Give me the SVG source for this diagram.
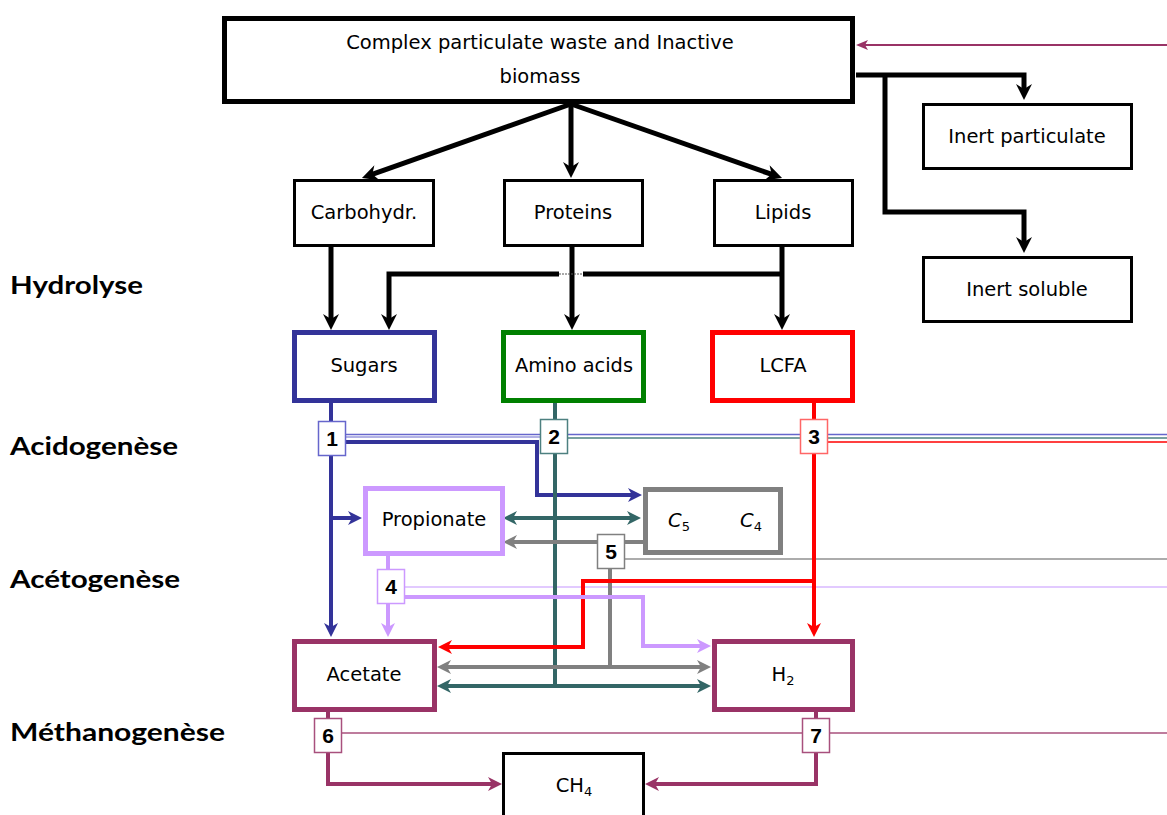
<svg xmlns="http://www.w3.org/2000/svg" width="1167" height="815" viewBox="0 0 1167 815">
  <style>
    .lbl { font-family: "DejaVu Sans", "Liberation Sans", sans-serif; font-size: 19.5px; fill: #000; text-anchor: middle; }
    .sub { font-size: 13px; font-style: normal; }
    .stage { font-family: Lato, "Liberation Sans", sans-serif; font-weight: bold; font-size: 25px; fill: #000; }
    .num { font-family: "Liberation Sans", Arial, sans-serif; font-weight: bold; font-size: 21px; fill: #000; text-anchor: middle; }
    .box { fill: #fff; stroke: #000; stroke-width: 3; }
    .boxk { fill: #fff; stroke: #000; stroke-width: 5; }
    .nb { fill: #fff; stroke-width: 1.5; }
    .ln { fill: none; stroke-linejoin: miter; }
    .thin { fill: none; stroke-width: 1.5; }
  </style>
  <defs>
    <marker id="mk-black" markerUnits="userSpaceOnUse" markerWidth="16" markerHeight="16" refX="6" refY="8" orient="auto-start-reverse">
      <path d="M0,0 L16,8 L0,16 L5,8 z" fill="#000"/>
    </marker>
    <marker id="mk-blue" markerUnits="userSpaceOnUse" markerWidth="14" markerHeight="14" refX="5" refY="7" orient="auto-start-reverse">
      <path d="M0,0 L14,7 L0,14 L4,7 z" fill="#333399"/>
    </marker>
    <marker id="mk-teal" markerUnits="userSpaceOnUse" markerWidth="14" markerHeight="14" refX="5" refY="7" orient="auto-start-reverse">
      <path d="M0,0 L14,7 L0,14 L4,7 z" fill="#336666"/>
    </marker>
    <marker id="mk-gray" markerUnits="userSpaceOnUse" markerWidth="14" markerHeight="14" refX="5" refY="7" orient="auto-start-reverse">
      <path d="M0,0 L14,7 L0,14 L4,7 z" fill="#808080"/>
    </marker>
    <marker id="mk-red" markerUnits="userSpaceOnUse" markerWidth="14" markerHeight="14" refX="5" refY="7" orient="auto-start-reverse">
      <path d="M0,0 L14,7 L0,14 L4,7 z" fill="#FF0000"/>
    </marker>
    <marker id="mk-lav" markerUnits="userSpaceOnUse" markerWidth="14" markerHeight="14" refX="5" refY="7" orient="auto-start-reverse">
      <path d="M0,0 L14,7 L0,14 L4,7 z" fill="#CC99FF"/>
    </marker>
    <marker id="mk-maroon" markerUnits="userSpaceOnUse" markerWidth="14" markerHeight="14" refX="5" refY="7" orient="auto-start-reverse">
      <path d="M0,0 L14,7 L0,14 L4,7 z" fill="#993366"/>
    </marker>
    <marker id="mk-maroon-s" markerUnits="userSpaceOnUse" markerWidth="12" markerHeight="10" refX="4" refY="5" orient="auto">
      <path d="M0,0 L12,5 L0,10 L3,5 z" fill="#993366"/>
    </marker>
  </defs>

  <rect width="1167" height="815" fill="#fff"/>

  <!-- stage labels -->
  <g id="stages">
    <text class="stage" x="10" y="294" textLength="133" lengthAdjust="spacingAndGlyphs">Hydrolyse</text>
    <text class="stage" x="10" y="455" textLength="168" lengthAdjust="spacingAndGlyphs">Acidogenèse</text>
    <text class="stage" x="10" y="588" textLength="170" lengthAdjust="spacingAndGlyphs">Acétogenèse</text>
    <text class="stage" x="10" y="741" textLength="215" lengthAdjust="spacingAndGlyphs">Méthanogenèse</text>
  </g>

  <!-- connectors -->
  <g id="connectors">
    <!-- thin process lines -->
    <path class="thin" stroke="#6666CC" d="M346,434.5 H1167"/>
    <path class="thin" stroke="#9999DD" stroke-width="1" d="M346,437 H540"/>
    <path class="thin" stroke="#4D8080" d="M568,438 H1167"/>
    <path class="thin" stroke="#FF0000" d="M828,442 H1167"/>
    <path class="thin" stroke="#909090" d="M625,559 H1167"/>
    <path class="thin" stroke="#D9B8FF" d="M405,587 H1167"/>
    <path class="thin" stroke="#A8507D" stroke-width="1.2" d="M341,733 H1167"/>

    <!-- inflow -->
    <path class="ln" stroke="#993366" stroke-width="2" d="M1167,45 H864" marker-end="url(#mk-maroon-s)"/>

    <!-- disintegration -->
    <g stroke="#000" stroke-width="5" fill="none">
      <path d="M571,104 L371.4,174.7" marker-end="url(#mk-black)"/>
      <path d="M571,104 V168" marker-end="url(#mk-black)"/>
      <path d="M571,104 L772.6,174.7" marker-end="url(#mk-black)"/>
      <path d="M856,75 H1024 V90" marker-end="url(#mk-black)"/>
      <path d="M885,75 V212 H1024 V243" marker-end="url(#mk-black)"/>
      <!-- hydrolysis -->
      <path d="M331,246 V320" marker-end="url(#mk-black)"/>
      <path d="M572,246 V320" marker-end="url(#mk-black)"/>
      <path d="M782,246 V320" marker-end="url(#mk-black)"/>
      <path d="M389,320 V274 H559" marker-start="url(#mk-black)"/>
      <path d="M583,274 H782"/>
    </g>
    <path d="M559,274 H583" stroke="#555" stroke-width="1" stroke-dasharray="2,1" fill="none"/>

    <!-- sugars -->
    <g stroke="#333399" stroke-width="4" fill="none">
      <path d="M331,403 V628" marker-end="url(#mk-blue)"/>
      <path d="M331,518 H353" marker-end="url(#mk-blue)"/>
      <path d="M346,442 H537 V495 H633" marker-end="url(#mk-blue)"/>
    </g>

    <!-- amino acids -->
    <g stroke="#336666" stroke-width="4" fill="none">
      <path d="M555,403 V686"/>
      <path d="M512,518 H632" marker-start="url(#mk-teal)" marker-end="url(#mk-teal)"/>
      <path d="M446,686 H702" marker-start="url(#mk-teal)" marker-end="url(#mk-teal)"/>
    </g>

    <!-- valerate / butyrate -->
    <g stroke="#808080" stroke-width="4" fill="none">
      <path d="M643,542 H512" marker-end="url(#mk-gray)"/>
      <path d="M610,569 V667"/>
      <path d="M446,667 H702" marker-start="url(#mk-gray)" marker-end="url(#mk-gray)"/>
    </g>

    <!-- LCFA -->
    <g stroke="#FF0000" stroke-width="4" fill="none">
      <path d="M814,403 V628" marker-end="url(#mk-red)"/>
      <path d="M814,581 H583 V647 H447" marker-end="url(#mk-red)"/>
    </g>

    <!-- propionate -->
    <g stroke="#CC99FF" stroke-width="4" fill="none">
      <path d="M388,556 V628" marker-end="url(#mk-lav)"/>
      <path d="M405,597 H643 V646 H702" marker-end="url(#mk-lav)"/>
    </g>

    <!-- methanogenesis -->
    <g stroke="#993366" stroke-width="4" fill="none">
      <path d="M328,712 V784 H493" marker-end="url(#mk-maroon)"/>
      <path d="M816,712 V784 H654" marker-end="url(#mk-maroon)"/>
    </g>
  </g>

  <!-- nodes -->
  <g id="node-complex">
    <rect class="boxk" x="224.5" y="18.5" width="628" height="83"/>
    <text class="lbl" x="540" y="49">Complex particulate waste and Inactive</text>
    <text class="lbl" x="540" y="83">biomass</text>
  </g>
  <g id="node-inert-particulate">
    <rect class="box" x="923.5" y="104.5" width="208" height="64"/>
    <text class="lbl" x="1027" y="143">Inert particulate</text>
  </g>
  <g id="node-inert-soluble">
    <rect class="box" x="923.5" y="257.5" width="208" height="64"/>
    <text class="lbl" x="1027" y="296">Inert soluble</text>
  </g>
  <g id="node-carbohydrates">
    <rect class="box" x="294.5" y="180.5" width="139" height="65"/>
    <text class="lbl" x="364" y="219">Carbohydr.</text>
  </g>
  <g id="node-proteins">
    <rect class="box" x="504.5" y="180.5" width="138" height="65"/>
    <text class="lbl" x="573" y="219">Proteins</text>
  </g>
  <g id="node-lipids">
    <rect class="box" x="714.5" y="180.5" width="138" height="65"/>
    <text class="lbl" x="783" y="219">Lipids</text>
  </g>
  <g id="node-sugars">
    <rect x="294.5" y="332.5" width="140" height="68" fill="#fff" stroke="#333399" stroke-width="5"/>
    <text class="lbl" x="364" y="372">Sugars</text>
  </g>
  <g id="node-amino-acids">
    <rect x="503.5" y="332.5" width="140" height="68" fill="#fff" stroke="#008000" stroke-width="5"/>
    <text class="lbl" x="574" y="372" textLength="118" lengthAdjust="spacingAndGlyphs">Amino acids</text>
  </g>
  <g id="node-lcfa">
    <rect x="712.5" y="332.5" width="140" height="68" fill="#fff" stroke="#FF0000" stroke-width="5"/>
    <text class="lbl" x="783" y="372">LCFA</text>
  </g>
  <g id="node-propionate">
    <rect x="365.5" y="488.5" width="137" height="65" fill="#fff" stroke="#CC99FF" stroke-width="5"/>
    <text class="lbl" x="434" y="526">Propionate</text>
  </g>
  <g id="node-c5-c4">
    <rect x="645.5" y="489.5" width="135" height="63" fill="#fff" stroke="#808080" stroke-width="5"/>
    <text class="lbl" x="679" y="527" font-style="italic">C<tspan class="sub" dy="4">5</tspan></text>
    <text class="lbl" x="751" y="527" font-style="italic">C<tspan class="sub" dy="4">4</tspan></text>
  </g>
  <g id="node-acetate">
    <rect x="294.5" y="641.5" width="140" height="68" fill="#fff" stroke="#993366" stroke-width="5"/>
    <text class="lbl" x="364" y="681">Acetate</text>
  </g>
  <g id="node-h2">
    <rect x="714.5" y="641.5" width="138" height="68" fill="#fff" stroke="#993366" stroke-width="5"/>
    <text class="lbl" x="783" y="681">H<tspan class="sub" dy="4">2</tspan></text>
  </g>
  <g id="node-ch4">
    <rect class="box" x="503.5" y="753.5" width="140" height="70"/>
    <text class="lbl" x="574" y="792">CH<tspan class="sub" dy="4">4</tspan></text>
  </g>

  <!-- process numbers -->
  <g id="process-1">
    <rect class="nb" x="318.5" y="421.5" width="27" height="34" stroke="#6666CC"/>
    <text class="num" x="332" y="446">1</text>
  </g>
  <g id="process-2">
    <rect class="nb" x="540.5" y="419.5" width="27" height="34" stroke="#4D8080"/>
    <text class="num" x="554" y="444">2</text>
  </g>
  <g id="process-3">
    <rect class="nb" x="800.5" y="419.5" width="27" height="34" stroke="#FF6666"/>
    <text class="num" x="814" y="444">3</text>
  </g>
  <g id="process-4">
    <rect class="nb" x="377.5" y="569.5" width="27" height="34" stroke="#CC99FF"/>
    <text class="num" x="391" y="594">4</text>
  </g>
  <g id="process-5">
    <rect class="nb" x="597.5" y="534.5" width="27" height="34" stroke="#808080"/>
    <text class="num" x="611" y="559">5</text>
  </g>
  <g id="process-6">
    <rect class="nb" x="314.5" y="718.5" width="27" height="34" stroke="#A8507D"/>
    <text class="num" x="328" y="743">6</text>
  </g>
  <g id="process-7">
    <rect class="nb" x="802.5" y="718.5" width="27" height="34" stroke="#A8507D"/>
    <text class="num" x="816" y="743">7</text>
  </g>
</svg>
